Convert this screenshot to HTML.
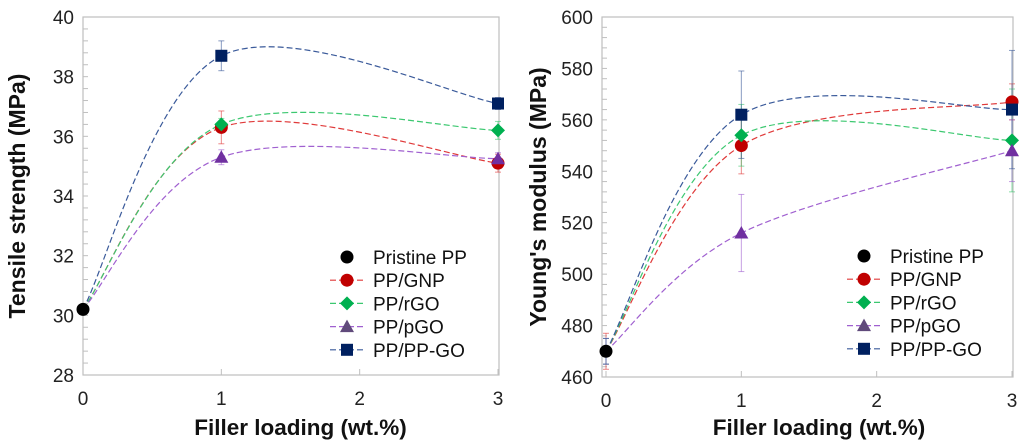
<!DOCTYPE html>
<html><head><meta charset="utf-8"><style>
html,body{margin:0;padding:0;background:#fff;}
svg{display:block;font-family:"Liberation Sans",Arial,sans-serif;}
</style></head><body>
<svg id="svg" width="1024" height="445" viewBox="0 0 1024 445"></svg>
<script>
const xCats=[0,1,3];
const seriesNames=["Pristine PP","PP/GNP","PP/rGO","PP/pGO","PP/PP-GO"];
// Tensile strength
const tsPristine=[30.2];
const tsGNP=[30.2,36.3,35.1];
const tsRGO=[30.2,36.4,36.2];
const tsPGO=[30.2,35.3,35.25];
const tsPPGO=[30.2,38.7,37.1];
const tsErrGNP=[0.1,0.55,0.3];
const tsErrRGO=[0.1,0.2,0.3];
const tsErrPGO=[0.1,0.25,0.2];
const tsErrPPGO=[0.1,0.5,0.2];
const tsTicks=[28,30,32,34,36,38,40];
// Young's modulus
const ymPristine=[470];
const ymGNP=[470,550,567];
const ymRGO=[470,554,552];
const ymPGO=[470,516,548];
const ymPPGO=[470,562,564];
const ymErrGNP=[7,11,7];
const ymErrRGO=[5,12,20];
const ymErrPGO=[5,15,12];
const ymErrPPGO=[5,17,23];
const ymTicks=[460,480,500,520,540,560,580,600];
const xTicks=[0,1,2,3];

const NS="http://www.w3.org/2000/svg";
const svg=document.getElementById('svg');
function mk(tag,attrs,parent){const e=document.createElementNS(NS,tag);for(const k in attrs)e.setAttribute(k,attrs[k]);(parent||svg).appendChild(e);return e;}
const styles=[
 {mc:"#000",lc:null,shape:"circle"},
 {mc:"#c00000",lc:"#e03a3a",shape:"circle"},
 {mc:"#00b050",lc:"#3cc870",shape:"diamond"},
 {mc:"#7030a0",lc:"#a060d0",shape:"triangle"},
 {mc:"#002060",lc:"#3a5a9a",shape:"square"}];

function marker(g,shape,cx,cy,color){
 let e;
 if(shape==="circle")e=mk('circle',{cx,cy,r:6.5,fill:color},g);
 else if(shape==="diamond")e=mk('polygon',{points:`${cx},${cy-7} ${cx+7},${cy} ${cx},${cy+7} ${cx-7},${cy}`,fill:color},g);
 else if(shape==="triangle")e=mk('polygon',{points:`${cx},${cy-7} ${cx+7},${cy+5.5} ${cx-7},${cy+5.5}`,fill:color},g);
 else e=mk('rect',{x:cx-6,y:cy-6,width:12,height:12,fill:color},g);
 return e;
}
function smoothPath(pts){
 let d=`M${pts[0][0]},${pts[0][1]}`;
 for(let i=0;i<pts.length-1;i++){
  const p0=pts[Math.max(0,i-1)],p1=pts[i],p2=pts[i+1],p3=pts[Math.min(pts.length-1,i+2)];
  const t=1/6;
  const c1=[p1[0]+(p2[0]-p0[0])*t,p1[1]+(p2[1]-p0[1])*t];
  const c2=[p2[0]-(p3[0]-p1[0])*t,p2[1]-(p3[1]-p1[1])*t];
  d+=` C${c1[0]},${c1[1]} ${c2[0]},${c2[1]} ${p2[0]},${p2[1]}`;
 }
 return d;
}
function chart(cfg){
 const g=mk('g',{});
 
 
 const X=v=>cfg.x0+(v/3)*(cfg.x1-cfg.x0);
 const ymin=cfg.ticks[0],ymax=cfg.ticks[cfg.ticks.length-1];
 const Y=v=>cfg.y1-(v-ymin)/(ymax-ymin)*(cfg.y1-cfg.y0);
 const fr=mk('rect',{x:cfg.fx,y:cfg.y0,width:cfg.x1-cfg.fx+1,height:cfg.y1-cfg.y0,fill:"none",stroke:"#bfbfbf","stroke-width":1.2},g);
 
 const step=(cfg.ticks[1]-cfg.ticks[0])/5;
 for(let v=ymin;v<=ymax+1e-9;v+=step){mk('line',{x1:cfg.fx,x2:cfg.fx+5,y1:Y(v),y2:Y(v),stroke:"#bfbfbf","stroke-width":1},g);}
 cfg.ticks.forEach(v=>{const t=mk('text',{x:cfg.fx-9,y:Y(v)+7,"text-anchor":"end","font-size":19,fill:"#222"},g);t.textContent=v;
  });
 xTicks.forEach(v=>{mk('line',{x1:X(v),x2:X(v),y1:cfg.y1,y2:cfg.y1-6,stroke:"#bfbfbf"},g);
  const t=mk('text',{x:X(v),y:cfg.y1+30,"text-anchor":"middle","font-size":19,fill:"#222"},g);t.textContent=v;
  });
 const xt=mk('text',{x:(cfg.x0+cfg.x1)/2+10,y:435,"text-anchor":"middle","font-size":22.5,"font-weight":"bold",fill:"#111"},g);
 xt.textContent="Filler loading (wt.%)";
 const yt=mk('text',{x:0,y:0,"text-anchor":"middle","font-size":23,"font-weight":"bold",fill:"#111",transform:`translate(${cfg.ytx},${(cfg.y0+cfg.y1)/2}) rotate(-90)`},g);
 yt.textContent=cfg.ytitle;
 for(let s=1;s<5;s++){
  const vals=cfg.series[s],errs=cfg.errs[s],st=styles[s];
  const pts=vals.map((v,i)=>[X(xCats[i]),Y(v)]);
  const p=mk('path',{d:smoothPath(pts),fill:"none",stroke:st.lc,"stroke-width":1.2,"stroke-dasharray":"6,3"},g);
  
  vals.forEach((v,i)=>{
   const x=X(xCats[i]);
   const e1=mk('line',{x1:x,x2:x,y1:Y(v-errs[i]),y2:Y(v+errs[i]),stroke:st.lc,"stroke-width":1,opacity:0.6},g);
   
   mk('line',{x1:x-3,x2:x+3,y1:Y(v-errs[i]),y2:Y(v-errs[i]),stroke:st.lc,opacity:0.6},g);
   mk('line',{x1:x-3,x2:x+3,y1:Y(v+errs[i]),y2:Y(v+errs[i]),stroke:st.lc,opacity:0.6},g);
  });
 }
 for(let s=1;s<5;s++){
  cfg.series[s].forEach((v,i)=>{if(i===0)return;const m=marker(g,styles[s].shape,X(xCats[i]),Y(v),styles[s].mc);
   });
 }
 cfg.series[0].forEach((v,i)=>{const m=marker(g,"circle",X(xCats[i]),Y(v),"#000");
  });
 const lg=mk('g',{},g);
 
 seriesNames.forEach((n,i)=>{
  const y=cfg.ly+i*23.2;
  const row=mk('g',{},lg);
  
  if(styles[i].lc)mk('line',{x1:cfg.lx-17,x2:cfg.lx+17,y1:y,y2:y,stroke:styles[i].lc,"stroke-width":1.2,"stroke-dasharray":"6,3"},row);
  marker(row,styles[i].shape,cfg.lx,y,i===3?"#604a7b":styles[i].mc);
  const t=mk('text',{x:cfg.lx+26,y:y+7,"font-size":19,fill:"#111"},row);t.textContent=n;
 });
}
chart({name:'tensile-strength-chart',fx:83,x0:83,x1:498,y0:17,y1:375,ticks:tsTicks,ytitle:"Tensile strength (MPa)",ytx:25,
 series:[tsPristine,tsGNP,tsRGO,tsPGO,tsPPGO],errs:[null,tsErrGNP,tsErrRGO,tsErrPGO,tsErrPPGO],lx:347,ly:257});
chart({name:'youngs-modulus-chart',fx:602,x0:606,x1:1012,y0:17,y1:377,ticks:ymTicks,ytitle:"Young's modulus (MPa)",ytx:546,
 series:[ymPristine,ymGNP,ymRGO,ymPGO,ymPPGO],errs:[null,ymErrGNP,ymErrRGO,ymErrPGO,ymErrPPGO],lx:864,ly:256});
</script>
</body></html>
